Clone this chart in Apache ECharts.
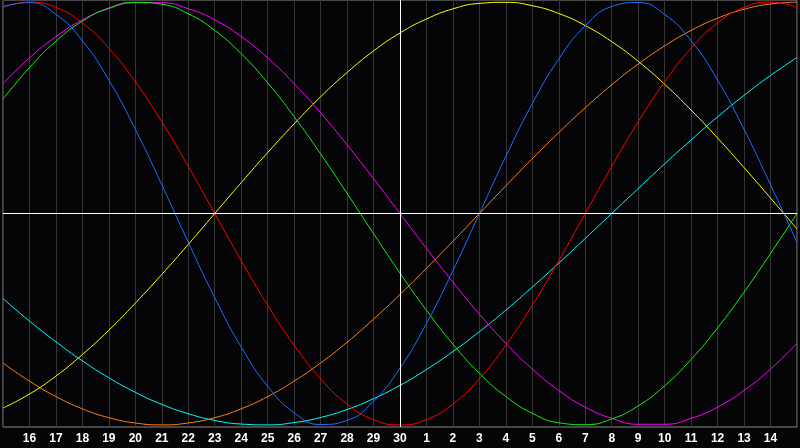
<!DOCTYPE html>
<html>
<head>
<meta charset="utf-8">
<script src="https://cdn.jsdelivr.net/npm/echarts@6/dist/echarts.min.js"></script>
<style>
html,body{margin:0;padding:0;background:#050507;}
#chart{width:800px;height:448px;}
</style>
</head>
<body>
<div id="chart"></div>
<script>
// Day labels at each tick (index 0 .. 30)
var dayLabels = ['', '16','17','18','19','20','21','22','23','24','25','26','27','28','29','30',
                 '1','2','3','4','5','6','7','8','9','10','11','12','13','14', ''];

// Cycle values, one per day tick
var physical = [0.979,0.998,0.942,0.817,0.631,0.398,0.136,-0.136,-0.398,-0.631,-0.817,-0.942,-0.998,-0.979,-0.888,-0.731,-0.520,-0.270,0,0.270,0.520,0.731,0.888,0.979,0.998,0.942,0.817,0.631,0.398,0.136,-0.136];
var emotional = [0.975,1,0.975,0.901,0.782,0.623,0.434,0.223,0,-0.223,-0.434,-0.623,-0.782,-0.901,-0.975,-1,-0.975,-0.901,-0.782,-0.623,-0.434,-0.223,0,0.223,0.434,0.623,0.782,0.901,0.975,1,0.975];
var intellectual = [0.541,0.690,0.815,0.910,0.972,0.999,0.990,0.945,0.866,0.756,0.618,0.458,0.282,0.095,-0.095,-0.282,-0.458,-0.618,-0.756,-0.866,-0.945,-0.990,-0.999,-0.972,-0.910,-0.815,-0.690,-0.541,-0.372,-0.189,0];
var intuitive = [0.614,0.736,0.837,0.916,0.969,0.997,0.997,0.969,0.916,0.837,0.736,0.614,0.476,0.325,0.165,0,-0.165,-0.325,-0.476,-0.614,-0.736,-0.837,-0.916,-0.969,-0.997,-0.997,-0.969,-0.916,-0.837,-0.736,-0.614];
var aesthetic = [-0.920,-0.854,-0.769,-0.667,-0.552,-0.424,-0.288,-0.146,0,0.146,0.288,0.424,0.552,0.667,0.769,0.854,0.920,0.968,0.994,0.999,0.983,0.946,0.889,0.813,0.720,0.611,0.489,0.357,0.217,0.073,-0.073];
var awareness = [-0.707,-0.793,-0.866,-0.924,-0.966,-0.991,-1,-0.991,-0.966,-0.924,-0.866,-0.793,-0.707,-0.609,-0.5,-0.383,-0.259,-0.131,0,0.131,0.259,0.383,0.5,0.609,0.707,0.793,0.866,0.924,0.966,0.991,1];
var spiritual = [-0.403,-0.509,-0.607,-0.697,-0.777,-0.846,-0.903,-0.947,-0.979,-0.996,-1.000,-0.989,-0.965,-0.927,-0.876,-0.813,-0.738,-0.653,-0.559,-0.457,-0.348,-0.235,-0.118,0,0.118,0.235,0.348,0.457,0.559,0.653,0.738];

var seriesDefs = [
  {name:'Spiritual', data: spiritual, color:'#00ffff'},
  {name:'Awareness', data: awareness, color:'#ff8010'},
  {name:'Aesthetic', data: aesthetic, color:'#ffff00'},
  {name:'Intuitive', data: intuitive, color:'#ff00ff'},
  {name:'Intellectual', data: intellectual, color:'#10f010'},
  {name:'Emotional', data: emotional, color:'#ff0000'},
  {name:'Physical', data: physical, color:'#1e6eff'}
];

var chart = echarts.init(document.getElementById('chart'), null, {renderer:'canvas'});

var series = seriesDefs.map(function(s, idx){
  var o = {
    name: s.name,
    type: 'line',
    smooth: true,
    symbol: 'none',
    silent: true,
    animation: false,
    lineStyle: {color: s.color, width: 1},
    itemStyle: {color: s.color},
    data: s.data.map(function(v, i){ return [i, v]; }),
    z: 3
  };
  return o;
});

series.unshift({
  type: 'line',
  data: [],
  silent: true,
  animation: false,
  markLine: {
    silent: true,
    symbol: 'none',
    animation: false,
    label: {show: false},
    lineStyle: {color: '#ffffff', width: 1, type: 'solid'},
    data: [{xAxis: 15}, {yAxis: 0}]
  },
  z: 2
});

chart.setOption({
  backgroundColor: '#050507',
  animation: false,
  grid: {left: 0, right: 1, top: 0, height: 427, show: true, borderColor: '#8a8a8a', borderWidth: 1, backgroundColor: 'transparent'},
  xAxis: {
    type: 'value',
    min: 0, max: 30, interval: 1,
    axisLine: {show: true, lineStyle: {color: '#8a8a8a', width: 1}},
    axisTick: {show: false},
    splitLine: {show: true, lineStyle: {color: '#363636', width: 1}},
    axisLabel: {
      color: '#ffffff',
      fontFamily: 'Liberation Sans',
      fontWeight: 'bold',
      fontSize: 12,
      margin: 6,
      formatter: function(v){ return dayLabels[Math.round(v)] || ''; }
    }
  },
  yAxis: {
    type: 'value',
    min: -1.01, max: 1.01,
    axisLine: {show: false},
    axisTick: {show: false},
    axisLabel: {show: false},
    splitLine: {show: false}
  },
  series: series
});
</script>
</body>
</html>
